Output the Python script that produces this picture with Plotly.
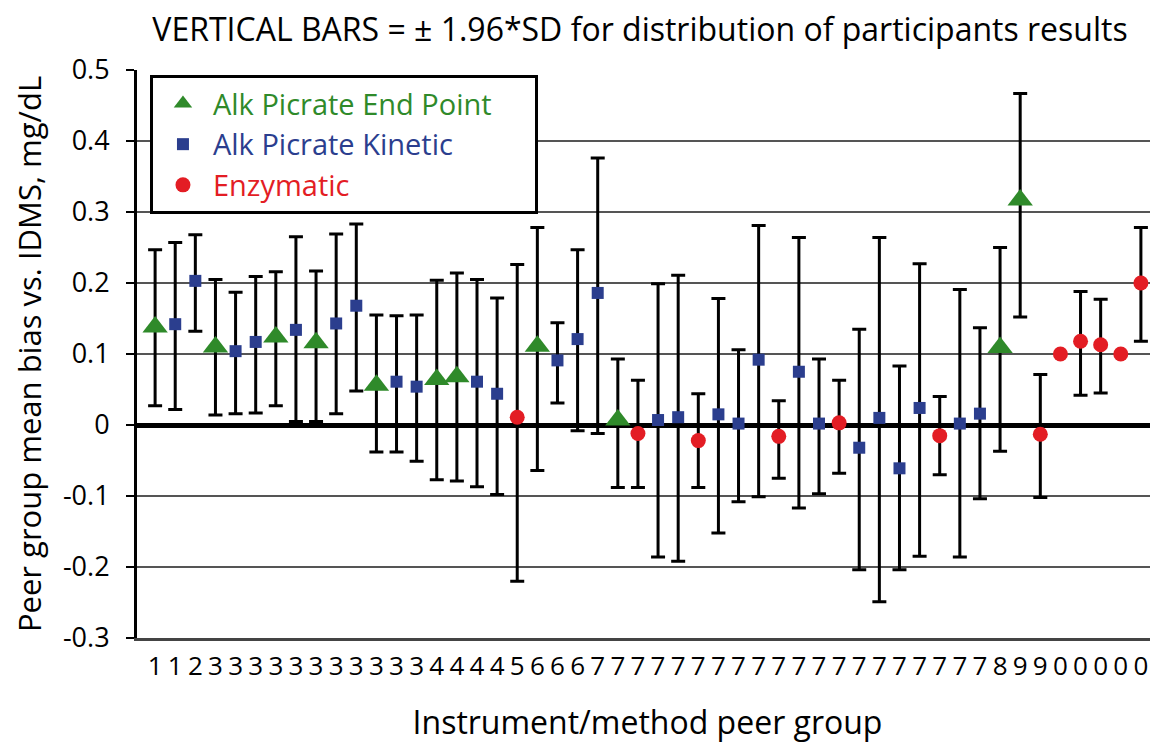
import numpy as np
import plotly.graph_objects as go

# ---- data ----
tick_labels = ["1", "1", "2", "3", "3", "3", "3", "3", "3", "3", "3", "3", "3", "3",
               "4", "4", "4", "4", "5", "6", "6", "6",
               "7", "7", "7", "7", "7", "7", "7", "7", "7", "7", "7", "7", "7", "7",
               "7", "7", "7", "7", "7", "7",
               "8", "9", "9", "0", "0", "0", "0", "0"]

method = ["E", "K", "K", "E", "K", "K", "E", "K", "E", "K",
          "K", "E", "K", "K", "E", "E", "K", "K", "Z", "E",
          "K", "K", "K", "E", "Z", "K", "K", "Z", "K", "K",
          "K", "Z", "K", "K", "Z", "K", "K", "K", "K", "Z",
          "K", "K", "E", "E", "Z", "Z", "Z", "Z", "Z", "Z"]

bias = [0.138, 0.142, 0.203, 0.110, 0.104, 0.117, 0.124, 0.134, 0.116, 0.143,
        0.168, 0.056, 0.061, 0.054, 0.064, 0.068, 0.061, 0.044, 0.011, 0.111,
        0.091, 0.121, 0.186, 0.007, -0.012, 0.007, 0.011, -0.022, 0.015, 0.002,
        0.092, -0.016, 0.075, 0.002, 0.003, -0.032, 0.010, -0.061, 0.024, -0.015,
        0.002, 0.016, 0.109, 0.317, -0.013, 0.100, 0.118, 0.113, 0.100, 0.200]

upper = [0.247, 0.257, 0.268, 0.205, 0.187, 0.209, 0.216, 0.265, 0.217, 0.269,
         0.283, 0.155, 0.154, 0.155, 0.204, 0.214, 0.205, 0.179, 0.226, 0.278,
         0.144, 0.247, 0.376, 0.093, 0.063, 0.199, 0.211, 0.044, 0.178, 0.106,
         0.281, 0.034, 0.264, 0.093, 0.063, 0.135, 0.264, 0.083, 0.227, 0.040,
         0.191, 0.137, 0.250, 0.467, 0.071, None, 0.188, 0.177, None, 0.278]

lower = [0.027, 0.022, 0.132, 0.014, 0.016, 0.017, 0.027, 0.005, 0.005, 0.016,
         0.048, -0.038, -0.038, -0.051, -0.077, -0.079, -0.087, -0.098, -0.220, -0.064,
         0.031, -0.008, -0.012, -0.088, -0.088, -0.186, -0.192, -0.088, -0.152, -0.108,
         -0.101, -0.075, -0.117, -0.097, -0.068, -0.204, -0.249, -0.204, -0.185, -0.070,
         -0.186, -0.104, -0.037, 0.152, -0.102, None, 0.042, 0.045, None, 0.118]

series = [
    ("E", "Alk Picrate End Point", "#2f8a2a", "triangle-up", 22),
    ("K", "Alk Picrate Kinetic", "#2b3e8e", "square", 12),
    ("Z", "Enzymatic", "#e31d24", "circle", 15),
]

FONT = "Open Sans"

x_all = np.arange(1, len(bias) + 1)
b = np.array(bias, dtype=float)
up = np.array([np.nan if v is None else v for v in upper], dtype=float)
lo = np.array([np.nan if v is None else v for v in lower], dtype=float)

fig = go.Figure()
for code, name, color, symbol, size in series:
    idx = [i for i, m in enumerate(method) if m == code]
    pad = "&nbsp;" * 5 if code == "E" else ""
    fig.add_trace(go.Scatter(
        x=x_all[idx], y=b[idx], mode="markers",
        name=f"<span style='color:{color}'>{name}</span>{pad}",
        legendgroup=code,
        marker=dict(color=color, symbol=symbol, size=size, line=dict(width=0)),
        error_y=dict(type="data", symmetric=False,
                     array=up[idx] - b[idx], arrayminus=b[idx] - lo[idx],
                     color="black", thickness=3, width=7),
    ))

# page body has an 8px margin, so the figure is sized to end at the window edge
W, H = 1150, 735
fig.update_layout(
    width=W, height=H,
    margin=dict(l=129, r=0, t=62, b=105),
    paper_bgcolor="white", plot_bgcolor="white",
    font=dict(family=FONT, color="black"),
    title=dict(text="VERTICAL BARS = ± 1.96*SD for distribution of participants results",
               x=632 / W, xanchor="center", y=1 - 22 / H, yanchor="middle",
               font=dict(size=32, family=FONT, color="black")),
    showlegend=True,
    legend=dict(x=0.0127, y=0.991, xanchor="left", yanchor="top",
                bgcolor="white", bordercolor="black", borderwidth=3,
                font=dict(size=29, family=FONT), tracegroupgap=0,
                itemwidth=50),
)

fig.update_xaxes(
    range=[0.1, 50.85], tickmode="array", tickvals=list(x_all), ticktext=tick_labels,
    tickangle=0, showgrid=False, zeroline=False, ticks="",
    showline=True, linecolor="#444", linewidth=3,
    tickfont=dict(size=26, family=FONT), ticklabelstandoff=3,
    title=dict(text="Instrument/method peer group", font=dict(size=32, family=FONT), standoff=33),
)
fig.update_yaxes(
    range=[-0.3, 0.5], tickmode="array",
    tickvals=[-0.3, -0.2, -0.1, 0, 0.1, 0.2, 0.3, 0.4, 0.5],
    ticktext=["-0.3", "-0.2", "-0.1", "0", "0.1", "0.2", "0.3", "0.4", "0.5"],
    showgrid=True, gridcolor="#555", gridwidth=1.5,
    zeroline=True, zerolinecolor="black", zerolinewidth=5,
    showline=True, linecolor="black", linewidth=3,
    ticks="outside", ticklen=8, tickwidth=2, tickcolor="black",
    tickfont=dict(size=27, family=FONT), ticklabelstandoff=11,
    title=dict(text="Peer group mean bias vs. IDMS, mg/dL", font=dict(size=31, family=FONT), standoff=24),
)

fig.write_html("out.html")
